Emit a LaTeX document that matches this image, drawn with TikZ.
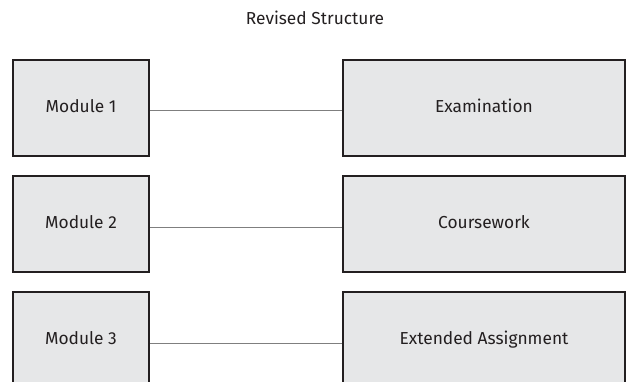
\documentclass[tikz,border=0pt]{standalone}
\usepackage{fontspec}
\setmainfont{Fira Sans}
\definecolor{boxgray}{HTML}{E6E7E8}
\definecolor{edgegray}{HTML}{231F20}
\definecolor{linkgray}{HTML}{7F7F7F}
\tikzstyle{module} = [rectangle, draw=edgegray, line width=1.5pt, fill=boxgray, 
    text=edgegray, minimum width=102pt, minimum height=72pt, inner sep=0pt,
    text height=9pt, text depth=2.5pt]
\tikzstyle{assess} = [module, minimum width=211.5pt]
\tikzstyle{line} = [draw=linkgray, line width=0.75pt]

\begin{document}
\begin{tikzpicture}[x=0.75pt,y=0.75pt,node distance=87pt,font=\fontsize{13}{15}\selectfont]
    \clip (0,0) rectangle (630,-381);
    % Place nodes
    \node[text=edgegray] (title) at (315,-18) {Revised Structure};
    \node [module] (module1) at (81,-108) {Module 1};
    \node [module,below of=module1] (module2) {Module 2};
    \node [module,below of=module2] (module3) {Module 3};

    \node [assess,right of=module1,node distance=302.25pt] (exam) {Examination};
    \node [assess,right of=module2,node distance=302.25pt] (course) {Coursework};
    \node [assess,right of=module3,node distance=302.25pt] (extended) {Extended Assignment};

    % Draw edges
    \path [line] ([yshift=-2.25pt]module1.east) -- ([yshift=-2.25pt]exam.west);
    \path [line] ([yshift=-2.25pt]module2.east) -- ([yshift=-2.25pt]course.west);
    \path [line] ([yshift=-2.25pt]module3.east) -- ([yshift=-2.25pt]extended.west);

\end{tikzpicture}
\end{document}
